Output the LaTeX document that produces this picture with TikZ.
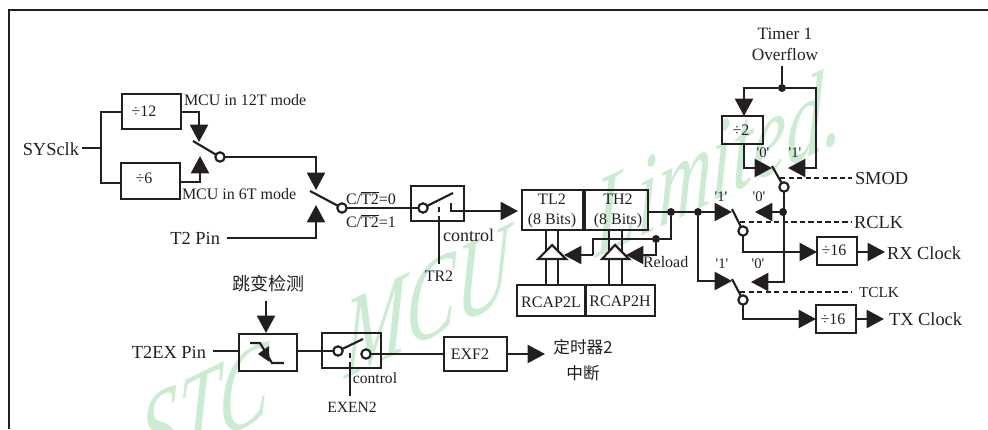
\documentclass[tikz,border=0pt]{standalone}
\usepackage{fontspec}
\setmainfont{Liberation Serif}
\newfontfamily\cjk{Noto Sans CJK SC}
\usetikzlibrary{arrows.meta}
\definecolor{ink}{HTML}{231F20}
\definecolor{wm}{HTML}{CBEBD2}
\tikzset{
  x=0.75pt,y=-0.75pt,
  wire/.style={ink,line width=1.6pt,line join=miter},
  arr/.style={wire,-{Triangle[length=13pt,width=13.5pt]}},
  dashw/.style={ink,line width=1.5pt,dash pattern=on 4pt off 2.4pt},
  lab/.style={text=ink,inner sep=0,outer sep=0,align=center},
  big/.style={lab,font=\fontsize{13.8}{16}\selectfont},
  mid/.style={lab,font=\fontsize{12}{15}\selectfont},
  tiny/.style={lab,font=\fontsize{11}{12}\selectfont},
  hole/.style={circle,draw=ink,line width=1.6pt,fill=white,minimum size=7pt,inner sep=0,outer sep=0},
  dotn/.style={circle,fill=ink,minimum size=6pt,inner sep=0,outer sep=0},
  boxn/.style={draw=ink,line width=1.8pt,inner sep=0,outer sep=0},
}
\newcommand{\pxbox}[5]{%
  \pgfmathsetmacro{\pxw}{(#4-#2)*0.75}%
  \pgfmathsetmacro{\pxh}{(#5-#3)*0.75}%
  \node[boxn,minimum width=\pxw pt,minimum height=\pxh pt] (#1) at ({(#2+#4)/2},{(#3+#5)/2}) {};}
\begin{document}
\begin{tikzpicture}
\useasboundingbox (0,0) rectangle (988,429);
% watermark
\begin{scope}[shift={(843,140)},yslant=0.48]
\node[text=wm,anchor=base east,transform shape,yscale=1.55,font=\itshape\fontsize{56}{56}\selectfont,inner sep=0] (wmark) at (0,0) {STC\hspace{1em}MCU\hspace{1.15em}Limited.};
\end{scope}
% frame
\coordinate (fa) at (9,429); \coordinate (fb) at (9,10); \coordinate (fc) at (988,10);
\draw[ink,line width=2.2pt] (fa) -- (fb) -- (fc);
% clock dividers
\node[big,anchor=east] (sys) at (79,149) {SYSclk};
\pxbox{d12}{122}{94}{181}{129}
\pxbox{d6}{121}{163}{180}{199}
\node[mid] (d12t) at (144,111) {÷12};
\node[mid] (d6t) at (144,178) {÷6};
\node[mid,anchor=west] (m12) at (184,100) {MCU in 12T mode};
\node[mid,anchor=west] (m6) at (182,194) {MCU in 6T mode};
\coordinate (j1) at (101,148);
\coordinate (js) at (82,148);
\draw[wire] (js) -- (j1);
\draw[wire] (122,112) -- (101,112) -- (101,183) -- (121,183);
\node[hole] (h1) at (220,157) {};
\coordinate (b1) at (193,141);
\draw[wire] (b1) -- (h1);
\coordinate (tip12) at (199,142); \coordinate (tip6) at (200,156);
\draw[arr] (181,112) -| (tip12);
\draw[arr] (180,182) -| (tip6);
\node[big,anchor=east] (t2) at (220,238) {T2 Pin};
\node[hole] (h2) at (342,208) {};
\coordinate (b2) at (310,191);
\draw[wire] (b2) -- (h2);
\coordinate (tipa) at (316,190); \coordinate (tipb) at (316,205); \coordinate (t2s) at (227,238);
\draw[arr] (h1) -| (tipa);
\draw[arr] (t2s) -| (tipb);
\node[mid] (c0) at (371,198) {C/$\overline{\mbox{T2}}$=0};
\node[mid] (c1) at (371,221) {C/$\overline{\mbox{T2}}$=1};
% TR2 switch
\pxbox{sw1}{411}{186}{464}{221}
\node[hole] (h3) at (423,208) {};
\coordinate (b3) at (453,193);
\draw[wire] (h3) -- (b3);
\draw[wire] (h2) -- (h3);
\draw[dashw] (439,207) -- (439,221);
\coordinate (trc) at (439,221); \coordinate (tre) at (439,264);
\draw[wire] (trc) -- (tre);
\node[big,font=\fontsize{13.5}{15}\selectfont] (ctl) at (468.5,235) {control};
\node[mid] (tr2) at (439,276) {TR2};
\coordinate (o1) at (451,203);
\pxbox{tl}{522}{190}{583}{230}
\pxbox{th}{585}{190}{648}{230}
\node[mid] (tlt) at (552,211) {TL2\\(8 Bits)};
\node[mid] (tht) at (618,211) {TH2\\(8 Bits)};
\coordinate (tltip) at (518,211);
\draw[arr] (o1) |- (tltip);
% reload registers
\pxbox{rl}{517}{285}{585}{316}
\pxbox{rh}{586}{285}{655}{316}
\node[mid] (rlt) at (551,302) {RCAP2L};
\node[mid] (rht) at (620,301) {RCAP2H};
\foreach \xx in {546,558,609,622}{\draw[wire] (\xx,230) -- (\xx,285);}
% reload control wires
\node[dotn] (dr1) at (671,212) {};
\node[dotn] (dr2) at (656,239) {};
\node[dotn] (dr3) at (698,212) {};
\draw[wire] (th.east |- dr1) -- (dr3);
\draw[wire] (dr1) |- (dr2);
\draw[wire] (dr2) -- (593,239) -- (593,255);
\coordinate (lt1) at (564,255); \coordinate (lt2) at (626,255);
\draw[fill=white,draw=ink,line width=1.6pt] (552,245) -- (538,259) -- (566,259) -- cycle;
\draw[fill=white,draw=ink,line width=1.6pt] (615,245) -- (602,259) -- (629,259) -- cycle;
\draw[arr] (593,255) -- (lt1);
\draw[arr] (dr2) |- (lt2);
\node[mid,anchor=west] (rel) at (643,262) {Reload};
% timer 1 overflow
\node[mid,font=\fontsize{13}{15.75}\selectfont] (ovf) at (785,44) {Timer 1\\Overflow};
\node[dotn] (d1) at (782,88) {};
\coordinate (ovs) at (782,66);
\draw[wire] (ovs) -- (d1);
\pxbox{d2}{722}{116}{763}{144}
\node[mid] (d2t) at (741,130) {÷2};
\coordinate (tipd2) at (744,116);
\draw[arr] (d1) -| (tipd2);
\coordinate (s1) at (772,168); \coordinate (s2) at (788,168);
\draw[arr] (744,144) |- (s1);
\draw[arr] (d1) -| (816,168) -- (s2);
\node[tiny] (q0) at (763,153) {\textquotesingle0\textquotesingle};
\node[tiny] (q1) at (795,153) {\textquotesingle1\textquotesingle};
\node[hole] (hs) at (784,187) {};
\coordinate (bs) at (772,166);
\draw[wire] (bs) -- (hs);
\coordinate (sd) at (780,178); \coordinate (sde) at (852,178);
\draw[dashw] (sd) -- (sde);
\node[big,anchor=west] (smod) at (855,178) {SMOD};
% RCLK
\node[dotn] (d5) at (783,212) {};
\coordinate (ra) at (755,212);
\draw[arr] (d5) -- (ra);
\coordinate (ct) at (751,282);
\draw[arr] (hs) |- (ct);
\coordinate (rt) at (732,212);
\draw[arr] (dr3) -- (rt);
\node[hole] (hr) at (743,231) {};
\coordinate (br) at (732,209);
\draw[wire] (br) -- (hr);
\draw[dashw] (740,222) -- (852,222);
\node[big,anchor=west] (rclk) at (854,222) {RCLK};
\node[tiny] (q2) at (721,197) {\textquotesingle1\textquotesingle};
\node[tiny] (q3) at (759,197) {\textquotesingle0\textquotesingle};
\pxbox{d16a}{817}{237}{857}{265}
\node[mid] (d16at) at (834,250) {÷16};
\coordinate (rxw) at (817,252);
\draw[arr] (hr) |- (rxw);
\coordinate (rxt) at (885,252);
\draw[arr] (857,252) -- (rxt);
\node[big,anchor=west] (rxc) at (887,253) {RX Clock};
% TCLK
\coordinate (tt) at (732,281);
\draw[arr] (dr3) |- (tt);
\node[hole] (ht) at (743,300) {};
\coordinate (bt) at (732,279);
\draw[wire] (bt) -- (ht);
\draw[dashw] (740,292) -- (852,292);
\node[mid,anchor=west,font=\fontsize{11.5}{14}\selectfont] (tclk) at (859,292) {TCLK};
\node[tiny] (q4) at (722,264) {\textquotesingle1\textquotesingle};
\node[tiny] (q5) at (758,264) {\textquotesingle0\textquotesingle};
\pxbox{d16b}{816}{305}{856}{333}
\node[mid] (d16bt) at (833,319) {÷16};
\coordinate (txw) at (816,319);
\draw[arr] (ht) |- (txw);
\coordinate (txt) at (884,319);
\draw[arr] (856,319) -- (txt);
\node[big,anchor=west] (txc) at (889,319) {TX Clock};
% T2EX
\node[big,anchor=east] (t2ex) at (206,352) {T2EX Pin};
\pxbox{edge}{239}{334}{297}{371}
\draw[wire] (213,351) -- (239,351);
\node[lab,font=\cjk\fontsize{13.5}{16}\selectfont] (det) at (268,284) {跳变检测};
\coordinate (dets) at (266,301); \coordinate (dete) at (266,333);
\draw[arr] (dets) -- (dete);
\draw[wire] (250,343) -- (260,343) -- (272,363) -- (284,363);
\fill[ink] (258,354) -- (269,346) -- (269.5,362) -- cycle;
\pxbox{sw2}{322}{333}{381}{368}
\node[hole] (h4) at (338,351) {};
\node[hole] (h5) at (366,354) {};
\coordinate (b4) at (363,339);
\draw[wire] (h4) -- (b4);
\draw[wire] (297,351) -- (h4);
\draw[dashw] (350,353) -- (350,367);
\draw[wire] (350,367) -- (350,396);
\node[mid,font=\fontsize{11.7}{14}\selectfont] (ctl2) at (375,378) {control};
\node[mid,font=\fontsize{11.7}{14}\selectfont] (exen) at (352,407) {EXEN2};
\pxbox{exf}{444}{337}{507}{371}
\node[mid] (exft) at (470,354) {EXF2};
\draw[wire] (h5) -- (exf.west |- h5);
\coordinate (ext) at (545,354);
\draw[arr] (507,354) -- (ext);
\node[lab,font=\cjk\fontsize{12.5}{14}\selectfont] (ti) at (583,347) {定时器2};
\node[lab,font=\cjk\fontsize{12.5}{14}\selectfont] (zd) at (583,373) {中断};
\end{tikzpicture}
\end{document}
